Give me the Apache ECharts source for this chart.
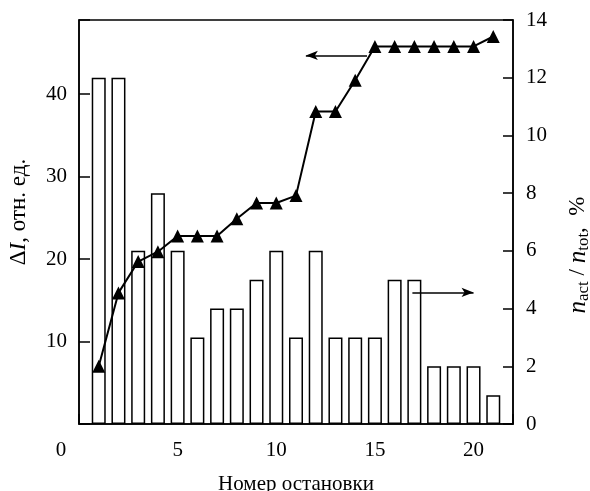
<!DOCTYPE html>
<html>
<head>
<meta charset="utf-8">
<script src="https://cdn.jsdelivr.net/npm/echarts@6/dist/echarts.min.js"></script>
<style>
html,body{margin:0;padding:0;background:#fff;}
#chart{width:590px;height:491px;}
</style>
</head>
<body>
<div id="chart"></div>
<script>
// Stop numbers
var stops = [1,2,3,4,5,6,7,8,9,10,11,12,13,14,15,16,17,18,19,20,21];
// Bars: n_act/n_tot, % (right axis)
var ratioPct = [12,12,6,8,6,3,4,4,5,6,3,6,3,3,3,5,5,2,2,2,1];
// Line: ΔI, rel. units (left axis)
var deltaI = [7.0,15.9,19.7,20.9,22.8,22.8,22.8,24.9,26.8,26.8,27.7,37.9,37.9,41.7,45.8,45.8,45.8,45.8,45.8,45.8,47.0];
// Tick labels
var xTicks = [0,5,10,15,20];
var leftTicks = [10,20,30,40];
var rightTicks = [0,2,4,6,8,10,12,14];
// Annotation arrows (data units)
var arrowLeft = [[14.6,44.7],[11.5,44.7]];
var arrowRight = [[16.9,4.56],[20.0,4.56]];

var FONT = 'Liberation Serif';
var TF = 21;
var NF = 21;
var YF = 23;
var chart = echarts.init(document.getElementById('chart'), null, {renderer:'canvas'});

var barData = stops.map(function(s,i){return [s, ratioPct[i]];});
var lineData = stops.map(function(s,i){return [s, deltaI[i]];});

var option = {
  animation:false,
  backgroundColor:'#fff',
  grid:{left:79, top:20, right:77, bottom:67, containLabel:false, outerBoundsMode:'none',
        show:true, borderColor:'#000', borderWidth:1.5, backgroundColor:'transparent'},
  xAxis:{
    type:'value', min:0, max:22, interval:5,
    name:'Номер остановки', nameLocation:'middle', nameGap:50,
    nameTextStyle:{fontFamily:FONT, fontSize:NF, color:'#000'},
    axisLine:{show:true, lineStyle:{color:'#000', width:1.5}},
    axisTick:{show:true, inside:true, length:10, lineStyle:{color:'#000', width:1.5}},
    axisLabel:{fontFamily:FONT, fontSize:TF, color:'#000', margin:16,
      formatter:function(v){ if (xTicks.indexOf(v) < 0) return ''; return v===0 ? '{z|0}' : String(v); },
      rich:{z:{fontFamily:FONT, fontSize:TF, color:'#000', padding:[0,36,0,0]}}},
    splitLine:{show:false}
  },
  yAxis:[
    {
      type:'value', min:0, max:49, interval:10, position:'left',
      name:'{d|Δ}{i|I}{n|, отн. ед.}', nameLocation:'middle', nameGap:49,
      nameTextStyle:{fontFamily:FONT, fontSize:YF, color:'#000', padding:[0,0,0,20],
        rich:{d:{fontFamily:FONT, fontSize:YF, color:'#000'}, i:{fontFamily:FONT, fontSize:YF, fontStyle:'italic', color:'#000'}, n:{fontFamily:FONT, fontSize:YF, color:'#000'}}},
      axisLine:{show:true, lineStyle:{color:'#000', width:1.5}},
      axisTick:{show:true, inside:true, length:11, lineStyle:{color:'#000', width:1.5}},
      axisLabel:{fontFamily:FONT, fontSize:TF, color:'#000', margin:12,
        formatter:function(v){ return leftTicks.indexOf(v) >= 0 ? String(v) : ''; }},
      splitLine:{show:false}
    },
    {
      type:'value', min:0, max:14, interval:2, position:'right',
      name:'{i|n}{s|act}{n| / }{i|n}{s|tot}{n|,  %}', nameLocation:'middle', nameGap:51,
      nameTextStyle:{fontFamily:FONT, fontSize:YF, color:'#000', padding:[0,66,0,0],
        rich:{i:{fontFamily:FONT, fontSize:25, fontStyle:'italic', color:'#000'},
              s:{fontFamily:FONT, fontSize:17, color:'#000', padding:[11,0,0,0]},
              n:{fontFamily:FONT, fontSize:YF, color:'#000'}}},
      axisLine:{show:true, lineStyle:{color:'#000', width:1.5}},
      axisTick:{show:true, inside:true, length:10, lineStyle:{color:'#000', width:1.5}},
      axisLabel:{fontFamily:FONT, fontSize:TF, color:'#000', margin:13,
        formatter:function(v){ return rightTicks.indexOf(v) >= 0 ? String(v) : ''; }},
      splitLine:{show:false}
    }
  ],
  series:[
    {
      type:'bar', yAxisIndex:1, data:barData, barWidth:14,
      itemStyle:{color:'#fff', borderColor:'#000', borderWidth:1.5},
      markLine:{silent:true, symbol:['none','arrow'], symbolSize:[7,12], label:{show:false},
        lineStyle:{color:'#000', width:1.5, type:'solid'},
        data:[[{coord:arrowRight[0]},{coord:arrowRight[1]}]]}
    },
    {
      type:'line', yAxisIndex:0, data:lineData,
      symbol:'triangle', symbolSize:13,
      lineStyle:{color:'#000', width:2},
      itemStyle:{color:'#000'},
      markLine:{silent:true, symbol:['none','arrow'], symbolSize:[7,12], label:{show:false},
        lineStyle:{color:'#000', width:1.5, type:'solid'},
        data:[[{coord:arrowLeft[0]},{coord:arrowLeft[1]}]]}
    }
  ]
};
chart.setOption(option);
</script>
</body>
</html>
